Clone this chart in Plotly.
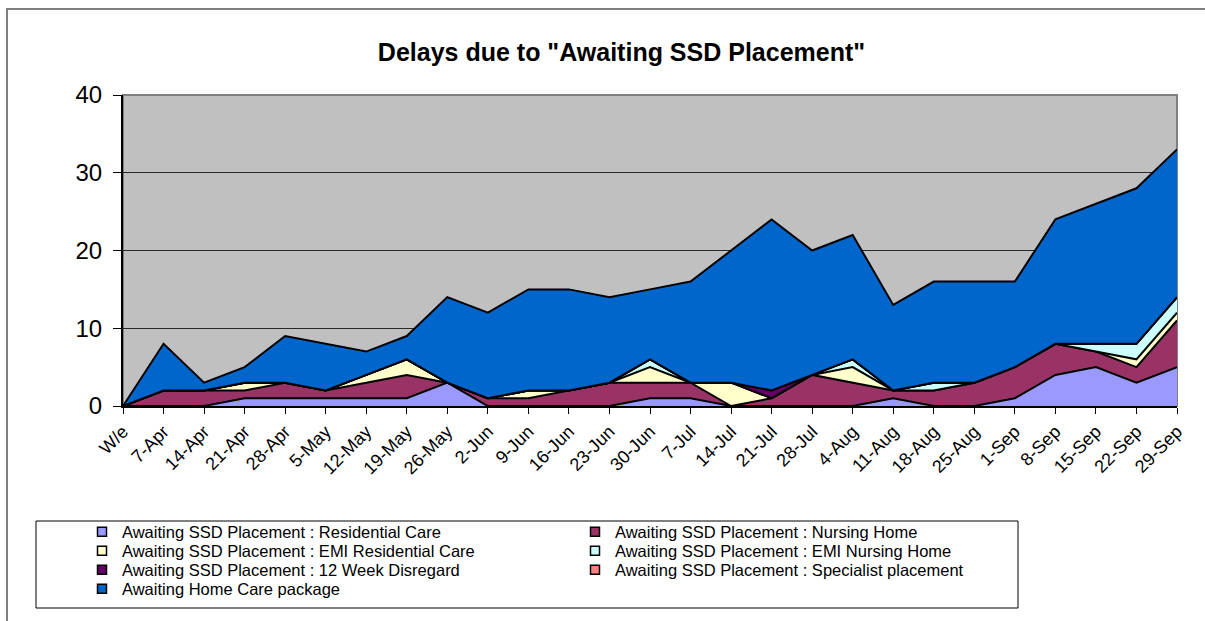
import plotly.graph_objects as go

weeks = ["W/e", "7-Apr", "14-Apr", "21-Apr", "28-Apr", "5-May", "12-May", "19-May", "26-May",
         "2-Jun", "9-Jun", "16-Jun", "23-Jun", "30-Jun", "7-Jul", "14-Jul", "21-Jul", "28-Jul",
         "4-Aug", "11-Aug", "18-Aug", "25-Aug", "1-Sep", "8-Sep", "15-Sep", "22-Sep", "29-Sep"]

residential_care = [0, 0, 0, 1, 1, 1, 1, 1, 3, 0, 0, 0, 0, 1, 1, 0, 0, 0, 0, 1, 0, 0, 1, 4, 5, 3, 5]
nursing_home     = [0, 2, 2, 1, 2, 1, 2, 3, 0, 1, 1, 2, 3, 2, 2, 0, 1, 4, 3, 1, 2, 3, 4, 4, 2, 2, 6]
emi_residential  = [0, 0, 0, 1, 0, 0, 1, 2, 0, 0, 1, 0, 0, 2, 0, 3, 0, 0, 2, 0, 0, 0, 0, 0, 0, 1, 1]
emi_nursing      = [0, 0, 0, 0, 0, 0, 0, 0, 0, 0, 0, 0, 0, 1, 0, 0, 0, 0, 1, 0, 1, 0, 0, 0, 1, 2, 2]
week12_disregard = [0, 0, 0, 0, 0, 0, 0, 0, 0, 0, 0, 0, 0, 0, 0, 0, 1, 0, 0, 0, 0, 0, 0, 0, 0, 0, 0]
specialist       = [0, 0, 0, 0, 0, 0, 0, 0, 0, 0, 0, 0, 0, 0, 0, 0, 0, 0, 0, 0, 0, 0, 0, 0, 0, 0, 0]
home_care        = [0, 6, 1, 2, 6, 6, 3, 3, 11, 11, 13, 13, 11, 9, 13, 17, 22, 16, 16, 11, 13, 13, 11, 16, 18, 20, 19]

series_names = ["Awaiting SSD Placement : Residential Care",
                "Awaiting SSD Placement : Nursing Home",
                "Awaiting SSD Placement : EMI Residential Care",
                "Awaiting SSD Placement : EMI Nursing Home",
                "Awaiting SSD Placement : 12 Week Disregard",
                "Awaiting SSD Placement : Specialist placement",
                "Awaiting Home Care package"]
series_values = [residential_care, nursing_home, emi_residential, emi_nursing,
                 week12_disregard, specialist, home_care]
series_colors = ["#9999FF", "#993366", "#FFFFCC", "#CCFFFF", "#660066", "#FF8080", "#0066CC"]

FONT = "Arial, Liberation Sans, sans-serif"
W, H = 1205, 621
L, R, T, B = 123, 28, 95, 215
PW, PH = W - L - R, H - T - B

def px_x(p):
    return (p - L) / PW

def px_y(p):
    return (H - B - p) / PH

legend_ids = ["legend", "legend2", "legend3", "legend4"]
row_centers = [532, 551, 570, 589]

fig = go.Figure()
for name, vals, col in zip(series_names, series_values, series_colors):
    fig.add_trace(go.Scatter(
        x=weeks, y=vals, name=name, stackgroup="one", mode="lines",
        line=dict(color="black", width=2), fillcolor=col,
        showlegend=False, hoverinfo="skip"))
for i, (name, col) in enumerate(zip(series_names, series_colors)):
    fig.add_trace(go.Scatter(
        x=[None], y=[None], name=name, mode="markers",
        marker=dict(symbol="square", size=9, color=col, line=dict(color="black", width=1.5)),
        showlegend=True, hoverinfo="skip", legend=legend_ids[i // 2]))

shapes = [
    dict(type="rect", xref="paper", yref="paper", x0=px_x(7), x1=px_x(1230), y0=px_y(640), y1=px_y(9),
         line=dict(color="#808080", width=2), fillcolor="rgba(0,0,0,0)", layer="below"),
    dict(type="rect", xref="paper", yref="paper", x0=0, x1=1, y0=0, y1=1,
         line=dict(color="#808080", width=2), fillcolor="rgba(0,0,0,0)", layer="below"),
    dict(type="rect", xref="paper", yref="paper", x0=px_x(36), x1=px_x(1018), y0=px_y(608), y1=px_y(521),
         line=dict(color="black", width=1), fillcolor="rgba(0,0,0,0)"),
]

legend_common = dict(orientation="h", xanchor="left", yanchor="middle", entrywidth=448,
                     traceorder="normal", bgcolor="rgba(0,0,0,0)", borderwidth=0,
                     font=dict(family=FONT, size=16.5, color="black"))
legends = {}
for lid, yc in zip(legend_ids, row_centers):
    legends[lid] = dict(legend_common, x=px_x(82), y=px_y(yc))

fig.update_layout(
    width=W, height=H,
    margin=dict(l=L, r=R, t=T, b=B, autoexpand=False),
    paper_bgcolor="white", plot_bgcolor="#C0C0C0",
    font=dict(family=FONT, color="black"),
    title=dict(text='Delays due to "Awaiting SSD Placement"', x=621.5 / W, xref="container", xanchor="center",
               y=1 - 52 / H, yref="container", yanchor="middle",
               font=dict(family=FONT, size=25, color="black", weight="bold")),
    xaxis=dict(type="category", categoryorder="array", categoryarray=weeks, range=[0, len(weeks) - 1],
               showgrid=False, showline=True, linecolor="black", linewidth=2,
               ticks="outside", ticklen=6, tickcolor="black", tickwidth=1,
               tickangle=-45, tickfont=dict(family=FONT, size=18, color="black"), automargin=False),
    yaxis=dict(range=[0, 40], tickvals=[0, 10, 20, 30, 40], showgrid=True, gridcolor="#2a2a2a", gridwidth=1,
               showline=True, linecolor="black", linewidth=2, zeroline=False,
               ticks="outside", ticklen=8, tickcolor="black", ticklabelstandoff=6,
               tickfont=dict(family=FONT, size=24, color="black"), automargin=False),
    shapes=shapes,
    showlegend=True,
    **legends,
)

fig.write_html("out.html", config={"displayModeBar": False},
               post_script="document.body.style.margin='0';")
